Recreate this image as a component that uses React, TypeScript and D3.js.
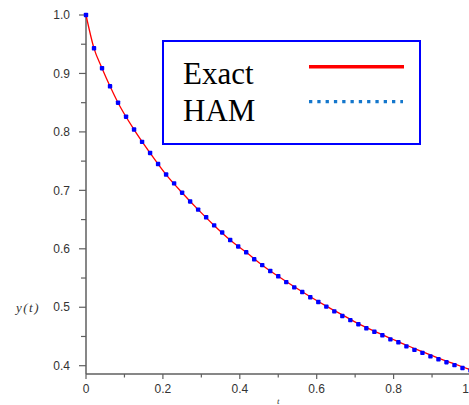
import React from "react";
import * as d3 from "d3";

// HAM points, t = i/48
const hamY = [
  1.0, 0.943, 0.909, 0.878, 0.85, 0.826, 0.804, 0.783, 0.764, 0.745,
  0.727, 0.712, 0.696, 0.681, 0.667, 0.654, 0.64, 0.628, 0.615, 0.604,
  0.594, 0.582, 0.572, 0.562, 0.553, 0.543, 0.534, 0.526, 0.517, 0.509,
  0.501, 0.493, 0.485, 0.478, 0.471, 0.464, 0.458, 0.452, 0.445, 0.44,
  0.433, 0.427, 0.422, 0.416, 0.411, 0.406, 0.401, 0.396, 0.392,
];
const hamT = hamY.map((_, i) => i / 48);

// Exact solution (red line)
const exactT = [0, 0.0208, 0.0417, 0.0625, 0.0833, 0.125, 0.1667, 0.2083, 0.25, 0.2917, 0.3333, 0.375, 0.4167, 0.4583, 0.5, 0.5417, 0.5833, 0.625, 0.6667, 0.7083, 0.75, 0.7917, 0.8333, 0.875, 0.9167, 0.9583, 1.0];
const exactY = [1.0, 0.943, 0.909, 0.878, 0.85, 0.804, 0.764, 0.727, 0.696, 0.667, 0.64, 0.615, 0.594, 0.572, 0.553, 0.535, 0.518, 0.502, 0.487, 0.472, 0.459, 0.447, 0.435, 0.424, 0.413, 0.403, 0.393];

const xMajor = [0, 0.2, 0.4, 0.6, 0.8, 1];
const xMinor = [0.1, 0.3, 0.5, 0.7, 0.9];
const yMajor = [0.4, 0.5, 0.6, 0.7, 0.8, 0.9, 1.0];
const yMinor = [0.45, 0.55, 0.65, 0.75, 0.85, 0.95];

const legendLabels = ["Exact", "HAM"];

export default function App() {
  const x = d3.scaleLinear().domain([0, 1]).range([86, 470.5]);
  const y = d3.scaleLinear().domain([0.3858, 1.0]).range([374, 15]);
  const axisColor = "#5f5f5f";
  const line = d3
    .line<number>()
    .x((_, i) => x(exactT[i]))
    .y((d) => y(d))
    .curve(d3.curveMonotoneX);
  const fmtY = d3.format(".1f");
  const fmtX = (v: number) => (v === 0 || v === 1 ? String(v) : d3.format(".1f")(v));
  return (
    <svg
      width={469}
      height={405}
      style={{ position: "absolute", left: 0, top: 0, background: "#fff" }}
    >
      {/* axes */}
      <line x1={x(0)} x2={x(0)} y1={y(1.0)} y2={y.range()[0]} stroke={axisColor} strokeWidth={1.5} />
      <line x1={x(0)} x2={470} y1={374} y2={374} stroke={axisColor} strokeWidth={1.5} />
      {yMajor.map((v) => (
        <g key={"ym" + v}>
          <line x1={x(0) - 7} x2={x(0)} y1={y(v)} y2={y(v)} stroke={axisColor} strokeWidth={1.2} />
          <text x={70} y={y(v)} dy="0.35em" textAnchor="end" fontFamily="Liberation Sans, Arial, sans-serif" fontSize={12} fill="#333">
            {fmtY(v)}
          </text>
        </g>
      ))}
      {yMinor.map((v) => (
        <line key={"yn" + v} x1={x(0) - 5} x2={x(0)} y1={y(v)} y2={y(v)} stroke={axisColor} strokeWidth={1.2} />
      ))}
      {xMajor.map((v) => (
        <g key={"xm" + v}>
          <line x1={x(v)} x2={x(v)} y1={374} y2={379} stroke={axisColor} strokeWidth={1.2} />
          <text
            x={v === 1 ? 469 : x(v)}
            y={393}
            textAnchor={v === 1 ? "end" : "middle"}
            fontFamily="Liberation Sans, Arial, sans-serif"
            fontSize={12}
            fill="#333"
          >
            {fmtX(v)}
          </text>
        </g>
      ))}
      {xMinor.map((v) => (
        <line key={"xn" + v} x1={x(v)} x2={x(v)} y1={374} y2={377.5} stroke={axisColor} strokeWidth={1.2} />
      ))}
      <text x={28} y={y(0.5)} dy="0.35em" textAnchor="middle" fontFamily="Liberation Serif, Times New Roman, serif" fontStyle="italic" fontSize={13} letterSpacing={1.5} fill="#333">
        y(t)
      </text>
      <text x={x(0.5)} y={404} textAnchor="middle" fontFamily="Liberation Serif, Times New Roman, serif" fontStyle="italic" fontSize={9} fill="#333">
        t
      </text>

      {/* exact curve */}
      <path d={line(exactY) || ""} fill="none" stroke="#ff0000" strokeWidth={1.3} />
      {/* HAM points */}
      {hamY.map((v, i) => (
        <rect key={"h" + i} x={x(hamT[i]) - 2.2} y={y(v) - 2.2} width={4.4} height={4.4} rx={0.8} fill="#0000ff" />
      ))}

      {/* legend */}
      <rect x={163} y={41} width={257} height={103} fill="#fff" stroke="#0000ff" strokeWidth={2} />
      <text x={183} y={83.5} fontFamily="Liberation Serif, Times New Roman, serif" fontSize={31} fill="#000">
        {legendLabels[0]}
      </text>
      <text x={183} y={120.5} fontFamily="Liberation Serif, Times New Roman, serif" fontSize={31} fill="#000">
        {legendLabels[1]}
      </text>
      <line x1={309} x2={404} y1={66.7} y2={66.7} stroke="#ff0000" strokeWidth={3.5} />
      <line x1={309} x2={403} y1={101.7} y2={101.7} stroke="#1477cc" strokeWidth={3.3} strokeDasharray="3.3 5" />
    </svg>
  );
}
